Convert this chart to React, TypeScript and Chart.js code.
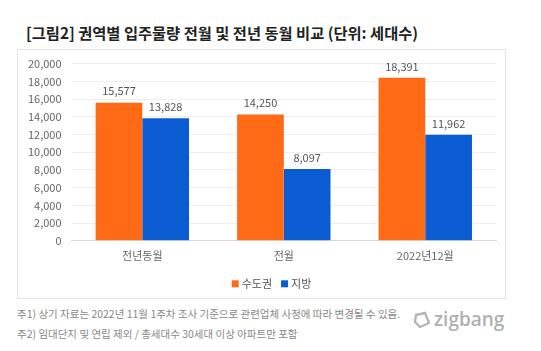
import React, { useEffect, useRef } from "react";
import { Chart, registerables } from "chart.js";

Chart.register(...registerables);

const categories = ["전년동월", "전월", "2022년12월"];
const capitalValues = [15577, 14250, 18391];
const regionalValues = [13828, 8097, 11962];
const seriesNames = ["수도권", "지방"];
const yTicks = [0, 2000, 4000, 6000, 8000, 10000, 12000, 14000, 16000, 18000, 20000];

const ORANGE = "#FF6A17";
const BLUE = "#0B5BD3";
const KFONT = "'Noto Sans CJK KR', 'Noto Sans', sans-serif";

const valueLabelPlugin = {
  id: "valueLabels",
  afterDatasetsDraw(chart: any) {
    const ctx = chart.ctx;
    ctx.save();
    ctx.font = "11px " + KFONT;
    ctx.fillStyle = "#555";
    ctx.textAlign = "center";
    ctx.textBaseline = "bottom";
    chart.data.datasets.forEach((ds: any, i: number) => {
      const meta = chart.getDatasetMeta(i);
      meta.data.forEach((bar: any, j: number) => {
        ctx.fillText(Number(ds.data[j]).toLocaleString("en-US"), bar.x, bar.y - 6);
      });
    });
    ctx.restore();
  },
};

const compactLegendPlugin = {
  id: "compactLegend",
  afterDraw(chart: any) {
    const ctx = chart.ctx;
    ctx.save();
    ctx.font = "11px " + KFONT;
    ctx.textBaseline = "middle";
    const box = 7;
    const gap = 3;
    const itemGap = 9;
    const items = chart.data.datasets.map((ds: any) => ({
      label: ds.label,
      color: ds.backgroundColor,
      w: box + gap + ctx.measureText(ds.label).width,
    }));
    const total = items.reduce((s: number, it: any) => s + it.w, 0) + itemGap * (items.length - 1);
    let x = chart.width / 2 - total / 2 + 10;
    const y = chart.chartArea.bottom + 43;
    items.forEach((it: any) => {
      ctx.fillStyle = it.color;
      ctx.fillRect(x, y - box / 2, box, box);
      ctx.fillStyle = "#555";
      ctx.textAlign = "left";
      ctx.fillText(it.label, x + box + gap, y + 0.5);
      x += it.w + itemGap;
    });
    ctx.restore();
  },
};

export default function App() {
  const canvasRef = useRef<HTMLCanvasElement | null>(null);

  useEffect(() => {
    document.body.style.margin = "0";
    document.body.style.background = "#fff";
    const chart = new Chart(canvasRef.current as HTMLCanvasElement, {
      type: "bar",
      data: {
        labels: categories,
        datasets: [
          { label: seriesNames[0], data: capitalValues, backgroundColor: ORANGE, categoryPercentage: 0.66, barPercentage: 1.0 },
          { label: seriesNames[1], data: regionalValues, backgroundColor: BLUE, categoryPercentage: 0.66, barPercentage: 1.0 },
        ],
      },
      options: {
        animation: false,
        responsive: false,
        maintainAspectRatio: false,
        layout: { padding: { left: 0, right: 9, top: 0, bottom: 28 } },
        plugins: {
          tooltip: { enabled: false },
          legend: { display: false },
        },
        scales: {
          x: {
            grid: { display: false, drawTicks: false },
            border: { color: "#d9d9d9" },
            ticks: { color: "#666", font: { family: KFONT, size: 11 }, padding: 8 },
          },
          y: {
            min: 0,
            max: 20000,
            afterBuildTicks: (axis: any) => {
              axis.ticks = yTicks.map((v) => ({ value: v }));
            },
            grid: { color: "#eeeeee", drawTicks: false },
            border: { display: false },
            ticks: {
              autoSkip: false,
              color: "#666",
              padding: 10,
              font: { family: KFONT, size: 11 },
              callback: (v: any) => Number(v).toLocaleString("en-US"),
            },
          },
        },
      },
      plugins: [valueLabelPlugin, compactLegendPlugin],
    } as any);
    return () => chart.destroy();
  }, []);

  return (
    <div style={{ position: "relative", width: 541, height: 351, background: "#fff", fontFamily: KFONT, overflow: "hidden" }}>
      <div style={{ position: "absolute", left: 26, top: 22, fontSize: 15.3, fontWeight: 700, color: "#222", whiteSpace: "nowrap", lineHeight: "20px" }}>
        [그림2] 권역별 입주물량 전월 및 전년 동월 비교 (단위: 세대수)
      </div>
      <div style={{ position: "absolute", left: 17, top: 49, width: 487, height: 248, border: "1px solid #e4e4e4" }} />
      <canvas ref={canvasRef} width={487} height={251} style={{ display: "block", position: "absolute", left: 18, top: 47 }} />
      <div style={{ position: "absolute", left: 17, top: 306, fontSize: 10.5, color: "#888", whiteSpace: "nowrap", lineHeight: "16px" }}>
        주1) 상기 자료는 2022년 11월 1주차 조사 기준으로 관련업체 사정에 따라 변경될 수 있음.
      </div>
      <div style={{ position: "absolute", left: 17, top: 326, fontSize: 10.5, color: "#888", whiteSpace: "nowrap", lineHeight: "16px" }}>
        주2) 임대단지 및 연립 제외 / 총세대수 30세대 이상 아파트만 포함
      </div>
      <svg style={{ position: "absolute", left: 412, top: 310 }} width={20} height={20} viewBox="0 0 20 20">
        <path d="M4 5 L13 3 L17 13 L8 17 L3 12 Z" fill="none" stroke="#b5b5b5" strokeWidth={2.4} strokeLinejoin="round" />
      </svg>
      <div style={{ position: "absolute", left: 434, top: 307, fontSize: 19, color: "#b0b0b0", fontFamily: "'Open Sans', sans-serif", fontWeight: 600, lineHeight: "24px" }}>
        zigbang
      </div>
    </div>
  );
}
